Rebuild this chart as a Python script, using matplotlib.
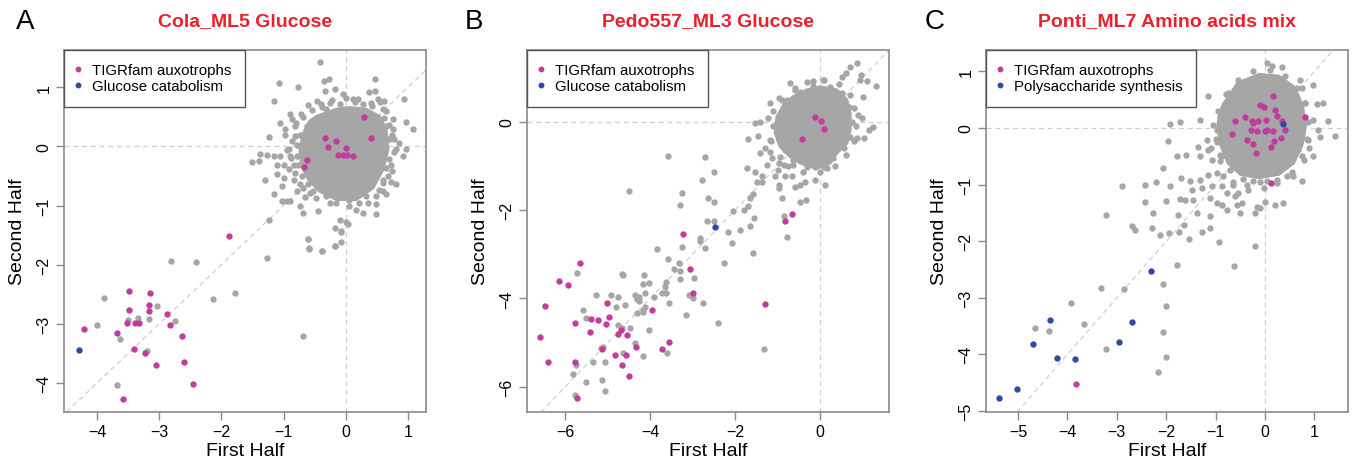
import matplotlib
matplotlib.use("Agg")
import matplotlib.pyplot as plt
from matplotlib.patches import Polygon
from matplotlib.lines import Line2D

plt.rcParams['font.family'] = ['Liberation Sans', 'DejaVu Sans']

# ---------------- Panel A data ----------------
A_core = [(-0.47, 0.51), (-0.15, 0.63), (0.06, 0.66), (0.33, 0.63), (0.54, 0.51), (0.65, 0.29),
          (0.68, -0.05), (0.60, -0.39), (0.44, -0.70), (0.17, -0.90), (-0.15, -0.90), (-0.42, -0.76),
          (-0.60, -0.56), (-0.71, -0.33), (-0.74, -0.05), (-0.68, 0.23), (-0.58, 0.43)]
A_gray = [(-0.41, 1.42), (-1.07, 1.08), (-0.76, 1.01), (-0.35, 1.11), (-0.27, 1.14), (0.47, 1.14),
          (-1.15, 0.76), (-0.33, 0.94), (-0.17, 0.97), (-0.05, 0.89), (0.38, 0.92), (0.47, 0.94),
          (0.41, 0.74), (0.52, 0.80), (0.62, 0.77), (0.94, 0.80), (-0.47, 0.77), (-0.39, 0.67),
          (-0.26, 0.74), (0.01, 0.82), (0.12, 0.80), (0.20, 0.80), (-0.90, 0.55), (-0.87, 0.46),
          (-0.68, 0.49), (-1.06, 0.39), (-0.98, 0.29), (-0.98, 0.20), (-0.82, 0.34), (-0.82, 0.18),
          (0.65, 0.60), (0.76, 0.46), (0.97, 0.41), (1.08, 0.30), (0.76, 0.29), (0.78, 0.12),
          (-1.24, 0.16), (0.81, -0.05), (0.97, -0.05), (0.92, -0.16), (-1.38, -0.12), (-1.27, -0.15),
          (-1.16, -0.17), (-1.06, -0.16), (-0.95, -0.06), (-0.90, -0.16), (-1.51, -0.27), (-1.40, -0.25),
          (-1.11, -0.31), (-1.00, -0.31), (-0.92, -0.39), (-0.84, -0.31), (-1.11, -0.47), (-1.00, -0.53),
          (-1.30, -0.56), (-0.84, -0.56), (-1.03, -0.67), (-0.74, -0.64), (-0.79, -0.76), (0.65, -0.36),
          (0.73, -0.31), (0.60, -0.56), (0.81, -0.64), (0.65, -0.81), (-1.16, -0.81), (-1.03, -0.93),
          (-0.95, -0.93), (-0.90, -0.92), (-0.58, -0.79), (-0.74, -1.01), (-0.68, -1.12), (-0.44, -1.09),
          (-0.15, -0.95), (0.06, -0.90), (0.22, -0.95), (0.49, -0.84), (0.49, -0.98), (0.17, -1.07),
          (0.28, -1.12), (0.49, -1.15), (-0.10, -1.24), (0.01, -1.27), (0.04, -1.32), (-1.24, -1.24),
          (-0.18, -1.38), (-0.07, -1.44), (-0.60, -1.57), (-0.59, -1.73), (-0.39, -1.76), (-0.18, -1.68),
          (-0.07, -1.61), (-1.27, -1.89),
          (0.70, 0.37), (-0.74, 0.20), (-0.79, 0.03), (-0.79, -0.16), (-0.76, -0.31), (-0.71, -0.50),
          (-0.60, -0.64), (-0.52, -0.76), (-0.31, -0.84), (0.06, -0.87), (0.33, -0.84), (0.54, -0.73),
          (0.60, -0.62), (0.68, -0.50), (0.70, -0.22), (0.70, 0.12), (0.65, 0.34), (0.60, 0.63),
          (0.28, 0.71), (-0.10, 0.71), (-0.31, 0.63), (-0.63, 0.34),
          (-0.80, 0.40), (-0.72, 0.55), (-0.55, 0.62), (-0.40, 0.72), (-0.22, 0.78), (0.15, 0.75),
          (0.42, 0.68), (0.62, 0.48), (0.75, 0.20), (0.78, -0.10), (0.74, -0.42), (0.60, -0.75),
          (0.35, -0.96), (0.05, -1.00), (-0.25, -0.96), (-0.48, -0.87), (-0.68, -0.70), (-0.82, -0.45),
          (-0.88, -0.20), (-0.86, 0.10), (-0.66, -0.86), (0.72, -0.60), (0.85, 0.05), (-0.92, -0.05),
          (0.55, 0.75), (-0.60, 0.70),
          (-0.60, -1.56), (-0.59, -1.72), (-0.39, -1.76), (-0.18, -1.68), (-0.07, -1.43),
          (-2.81, -1.94), (-2.40, -1.96), (-3.88, -2.57), (-2.14, -2.58), (-1.78, -2.48), (-3.03, -2.70),
          (-3.16, -2.92), (-3.34, -2.90), (-3.50, -2.94), (-2.75, -2.95), (-4.00, -3.02), (-3.63, -3.25),
          (-3.19, -3.46), (-0.68, -3.21), (-3.68, -4.04)]
A_tigr = [(-1.87, -1.52), (-3.48, -2.44), (-3.14, -2.48), (-3.16, -2.68), (-3.48, -2.76), (-3.16, -2.79),
          (-2.88, -2.84), (-3.51, -2.99), (-3.39, -2.99), (-3.33, -2.99), (-2.83, -3.02), (-4.21, -3.09),
          (-3.68, -3.15), (-2.64, -3.20), (-3.40, -3.42), (-3.23, -3.49), (-3.05, -3.70), (-2.60, -3.65),
          (-2.46, -4.02), (-3.58, -4.27),
          (0.29, 0.49), (0.41, 0.15), (-0.34, 0.15), (-0.16, 0.10), (-0.29, -0.01), (0.01, -0.03),
          (-0.13, -0.15), (-0.05, -0.15), (0.02, -0.14), (0.12, -0.16), (-0.62, -0.23), (-0.67, -0.34)]
A_blue = [(-4.29, -3.44)]

# ---------------- Panel B data ----------------
B_core = [(-0.63, 0.57), (-0.31, 0.72), (0.00, 0.79), (0.39, 0.72), (0.63, 0.49), (0.71, 0.19),
          (0.71, -0.19), (0.63, -0.49), (0.39, -0.72), (0.235, -0.94), (-0.08, -1.06), (-0.47, -0.94),
          (-0.71, -0.79), (-0.94, -0.57), (-1.06, -0.26), (-1.02, 0.11), (-0.86, 0.38)]
B_gray = [(0.86, 1.32), (0.71, 1.24), (0.51, 1.02), (0.94, 0.94), (1.10, 0.91), (1.32, 0.81),
          (-0.16, 0.91), (0.055, 0.94), (-0.72, 0.88), (-0.59, 0.72), (-1.18, 0.43), (-0.98, 0.53),
          (0.90, 0.15), (0.98, 0.09), (1.14, -0.19), (1.24, -0.13), (0.86, -0.38), (1.02, -0.38),
          (-1.53, -0.04), (-1.41, 0.00), (-1.22, 0.08), (-1.69, -0.40), (-1.47, -0.32), (-1.18, -0.41),
          (-1.41, -0.70), (-1.18, -0.68), (-1.14, -0.83), (-1.26, -0.98), (-0.98, -0.94), (-0.86, -0.98),
          (-1.73, -1.06), (-1.53, -1.13), (-1.37, -1.23), (-1.06, -1.23), (-0.82, -1.22), (-0.67, -1.23),
          (-0.63, -0.98), (-0.31, -0.94), (-0.12, -1.02), (0.16, -1.06), (-1.49, -1.36), (-1.37, -1.36),
          (-0.98, -1.43), (-0.98, -1.51), (-0.59, -1.47), (-0.47, -1.43), (-0.35, -1.36), (-0.12, -1.32),
          (0.12, -1.43), (-1.58, -1.64), (-1.65, -1.73), (-0.90, -1.73), (-0.47, -1.81), (-0.34, -1.77),
          (-1.71, -1.91), (-1.80, -2.00), (-2.06, -2.02), (-1.55, -2.19), (-1.88, -2.45), (-1.66, -2.37),
          (-2.16, -2.49), (-2.08, -2.75), (-1.58, -2.98), (-2.27, -3.20), (-0.78, -2.60), (-0.86, -2.13),
          (-3.59, -0.78), (-2.71, -0.81), (-2.49, -1.15), (-2.78, -1.33), (-3.26, -1.61), (-2.63, -1.73),
          (-2.51, -1.83), (-3.29, -1.89), (-2.67, -2.26), (-2.51, -2.26), (-2.84, -2.64), (-2.82, -2.69),
          (-3.26, -2.84), (-2.72, -2.87), (-3.59, -3.11), (-3.33, -3.19), (-3.45, -3.33), (-3.29, -3.39),
          (-2.98, -3.54), (-3.29, -3.57), (-4.50, -1.57), (-3.84, -2.89),
          (-0.78, 0.49), (-1.02, -0.11), (-0.98, -0.41), (-0.82, -0.64), (-0.63, -0.87), (-0.31, -1.02),
          (0.08, -1.02), (0.31, -0.83), (0.55, -0.60), (0.71, -0.34), (0.75, 0.00), (0.67, 0.34),
          (0.51, 0.64), (0.235, 0.79), (-0.16, 0.81), (-0.47, 0.68),
          (-1.10, -0.10), (-1.15, -0.45), (-0.95, -0.80), (-0.75, -1.00), (-0.40, -1.15), (0.00, -1.15),
          (0.35, -1.00), (0.60, -0.75), (0.80, -0.45), (0.85, -0.10), (0.80, 0.30), (0.70, 0.60),
          (0.45, 0.85), (0.10, 0.95), (-0.30, 0.90), (-0.60, 0.75), (-0.90, 0.50), (-1.10, 0.25),
          (1.00, 0.55), (0.95, 1.05), (0.60, 1.10), (-1.30, -0.60), (-1.00, -1.10),
          (-5.72, -3.43), (-4.67, -3.45), (-4.63, -3.48), (-4.14, -3.48), (-4.18, -3.68), (-4.02, -3.66),
          (-3.63, -3.62), (-3.65, -3.74), (-3.73, -3.87), (-3.63, -3.88), (-4.35, -3.92), (-4.27, -3.96),
          (-4.31, -4.01), (-3.91, -3.97), (-4.12, -3.87), (-4.75, -3.96), (-4.93, -3.93), (-5.28, -3.92),
          (-4.80, -4.19), (-4.60, -4.15), (-4.26, -4.06), (-4.13, -4.19), (-4.17, -4.26), (-4.16, -4.30),
          (-4.30, -4.34), (-3.55, -4.11), (-3.08, -3.93), (-2.99, -4.00), (-2.75, -4.10), (-3.15, -4.38),
          (-2.40, -4.55), (-5.58, -4.27), (-5.51, -4.45), (-4.77, -4.60), (-4.67, -4.66), (-4.47, -4.66),
          (-4.02, -4.71), (-4.35, -5.01), (-5.17, -5.13), (-5.10, -5.11), (-3.61, -5.23), (-4.65, -5.23),
          (-4.17, -5.31), (-5.35, -5.45), (-5.74, -5.50), (-5.07, -5.43), (-5.81, -5.72), (-5.52, -5.90),
          (-5.13, -5.84), (-5.06, -6.10), (-5.76, -6.19), (-1.33, -5.14)]
B_tigr = [(-0.13, 0.10), (0.03, 0.02), (0.09, -0.17), (-0.42, -0.39), (-0.82, -2.26), (-0.67, -2.09),
          (-3.23, -2.54), (-3.06, -3.34),
          (-5.65, -3.21), (-6.14, -3.60), (-5.94, -3.69), (-6.47, -4.17), (-2.99, -3.87), (-5.02, -4.10),
          (-3.95, -4.26), (-1.29, -4.12), (-4.97, -4.42), (-5.40, -4.47), (-5.24, -4.49), (-5.05, -4.57),
          (-5.78, -4.55), (-5.41, -4.75), (-4.68, -4.71), (-4.76, -4.81), (-4.55, -4.83), (-6.60, -4.88),
          (-3.55, -4.98), (-5.13, -5.14), (-4.33, -5.11), (-3.73, -5.15), (-6.41, -5.45), (-5.76, -5.43),
          (-4.82, -5.29), (-4.57, -5.29), (-4.66, -5.50), (-4.49, -5.75), (-5.72, -6.26)]
B_blue = [(-2.47, -2.38)]

# ---------------- Panel C data ----------------
C_core = [(-0.85, 0.42), (-0.55, 0.80), (-0.12, 0.95), (0.28, 0.92), (0.60, 0.72), (0.76, 0.40),
          (0.82, 0.03), (0.75, -0.30), (0.58, -0.62), (0.28, -0.82), (-0.12, -0.88), (-0.50, -0.82),
          (-0.75, -0.62), (-0.90, -0.30), (-0.96, 0.03), (-0.93, 0.22)]
C_gray = [(0.03, 1.15), (0.135, 1.10), (0.35, 1.08), (-0.17, 0.91), (-0.34, 0.82), (-0.57, 0.62),
          (-0.74, 0.62), (0.71, 0.85), (0.98, 0.76), (0.74, 0.71), (-1.15, 0.56), (-0.78, 0.44),
          (0.81, 0.44), (1.05, 0.43), (1.18, 0.44), (-1.32, 0.15), (-1.92, 0.08), (-1.73, 0.10),
          (0.98, 0.15), (1.28, 0.12), (1.08, -0.03), (1.42, -0.14), (1.11, -0.16), (0.88, -0.21),
          (0.74, -0.18), (-0.98, -0.03), (-0.98, -0.24), (-1.96, -0.22), (-1.36, -0.33), (-1.17, -0.21),
          (-1.79, -0.49), (-1.60, -0.47), (-1.32, -0.50), (-1.15, -0.38), (-1.08, -0.56), (-0.91, -0.59),
          (-0.91, -0.47), (0.78, -0.56), (0.98, -0.50), (0.74, -0.94), (0.57, -0.85), (-2.06, -0.71),
          (-2.43, -1.00), (-2.21, -0.96), (-1.92, -1.02), (-1.70, -0.88), (-1.52, -0.94), (-1.32, -0.91),
          (-1.15, -0.83), (-0.98, -0.80), (-1.48, -1.09), (-1.28, -1.06), (-1.08, -1.02), (-0.88, -1.03),
          (-0.64, -1.00), (-0.78, -1.15), (-0.54, -1.15), (-0.37, -1.00), (-0.24, -0.94), (-0.03, -1.06),
          (0.03, -0.94), (0.24, -0.97), (0.44, -0.85), (-2.43, -1.30), (-1.72, -1.25), (-1.62, -1.27),
          (-1.45, -1.27), (-1.11, -1.24), (-0.98, -1.33), (-0.88, -1.36), (-0.61, -1.21), (-0.57, -1.36),
          (-0.47, -1.33), (-0.17, -1.39), (0.00, -1.30), (0.20, -1.36), (0.37, -1.33), (-2.26, -1.50),
          (-1.77, -1.53), (-1.38, -1.50), (-1.11, -1.56), (-0.78, -1.44), (-0.51, -1.50), (-0.20, -1.50),
          (-0.10, -1.41), (-2.69, -1.74), (-2.63, -1.81), (-2.29, -1.77), (-2.13, -1.89), (-1.94, -1.86),
          (-1.75, -1.84), (-1.65, -1.71), (-1.28, -1.83), (-1.11, -1.77), (-1.53, -1.97), (-0.94, -2.02),
          (-0.20, -2.09), (-2.90, -1.03), (-2.00, -1.29), (-3.23, -1.53),
          (-0.67, 0.44), (-0.51, 0.68), (-0.27, 0.85), (0.10, 0.91), (0.44, 0.76), (0.61, 0.53),
          (0.74, 0.21), (0.74, -0.09), (0.675, -0.38), (0.44, -0.65), (0.10, -0.80), (-0.27, -0.78),
          (-0.54, -0.65), (-0.74, -0.41), (-0.88, -0.15), (-0.88, 0.18),
          (-0.95, 0.30), (-0.80, 0.60), (-0.55, 0.85), (-0.25, 1.00), (0.10, 1.02), (0.40, 0.92),
          (0.65, 0.70), (0.80, 0.45), (0.88, 0.10), (0.85, -0.20), (0.75, -0.50), (0.55, -0.78),
          (0.25, -0.92), (-0.10, -0.95), (-0.45, -0.90), (-0.70, -0.75), (-0.88, -0.50), (-1.00, -0.20),
          (-1.05, 0.05), (-0.65, -0.95), (-0.35, -1.10), (0.90, -0.35), (-1.10, -0.35), (-0.85, -0.85),
          (-1.78, -2.42), (-0.62, -2.44), (-2.06, -2.75), (-3.33, -2.82), (-2.85, -2.84),
          (-3.93, -3.09), (-2.00, -3.14), (-3.66, -3.46), (-4.65, -3.54), (-4.37, -3.58), (-2.06, -3.61),
          (-3.23, -3.90), (-2.01, -4.05), (-2.16, -4.32)]
C_tigr = [(0.17, 0.56), (-0.10, 0.41), (-0.03, 0.38), (0.20, 0.32), (-0.40, 0.19), (-0.61, 0.12),
          (-0.27, 0.12), (-0.24, 0.09), (-0.14, 0.13), (0.02, 0.15), (0.24, 0.21), (0.34, 0.12),
          (-0.28, -0.03), (-0.17, -0.05), (-0.01, -0.05), (0.03, -0.03), (0.16, -0.06), (0.41, -0.03),
          (-0.67, -0.10), (-0.37, -0.21), (-0.24, -0.28), (0.19, -0.22), (0.32, -0.18), (0.12, -0.34),
          (-0.18, -0.44), (0.80, 0.20), (0.12, -0.97), (-3.83, -4.53)]
C_blue = [(0.36, 0.07), (-2.30, -2.53), (-4.35, -3.39), (-2.70, -3.42), (-4.70, -3.82), (-2.96, -3.79),
          (-4.21, -4.06), (-3.85, -4.09), (-5.02, -4.61), (-5.39, -4.78)]

panels = [
    dict(letter="A", title="Cola_ML5 Glucose", core=A_core, gray=A_gray, tigr=A_tigr, blue=A_blue,
         blue_label="Glucose catabolism", xlim=(-4.53, 1.29), ylim=(-4.49, 1.63),
         xticks=[-4, -3, -2, -1, 0, 1], yticks=[-4, -3, -2, -1, 0, 1], left=64, lx=25),
    dict(letter="B", title="Pedo557_ML3 Glucose", core=B_core, gray=B_gray, tigr=B_tigr, blue=B_blue,
         blue_label="Glucose catabolism", xlim=(-6.9, 1.62), ylim=(-6.57, 1.62),
         xticks=[-6, -4, -2, 0], yticks=[-6, -4, -2, 0], left=527, lx=474),
    dict(letter="C", title="Ponti_ML7 Amino acids mix", core=C_core, gray=C_gray, tigr=C_tigr, blue=C_blue,
         blue_label="Polysaccharide synthesis", xlim=(-5.65, 1.68), ylim=(-5.02, 1.38),
         xticks=[-5, -4, -3, -2, -1, 0, 1], yticks=[-5, -4, -3, -2, -1, 0, 1], left=986, lx=935),
]

W, H = 1354, 464
fig = plt.figure(figsize=(W / 100, H / 100), dpi=100)

GRAY = '#a6a6a6'
MAG = '#c23b9f'
BLUE = '#2b4ba5'
FRAME = '#8a8a8a'
LINEC = '#cfcfcf'
S = 21

for p in panels:
    ax = fig.add_axes([p['left'] / W, (H - 413) / H, 362 / W, 362 / H])
    ax.set_xlim(*p['xlim'])
    ax.set_ylim(*p['ylim'])
    ax.axhline(0, color=LINEC, lw=0.9, ls=(0, (4, 3)), zorder=1)
    ax.axvline(0, color=LINEC, lw=0.9, ls=(0, (4, 3)), zorder=1)
    ax.axline((0, 0), slope=1, color=LINEC, lw=0.9, ls=(0, (4, 3)), zorder=1)
    ax.add_patch(Polygon(p['core'], closed=True, facecolor=GRAY, edgecolor=GRAY, lw=2, zorder=2))
    gx = [q[0] for q in p['gray']]
    gy = [q[1] for q in p['gray']]
    ax.scatter(gx, gy, s=S, color=GRAY, linewidths=0, zorder=2)
    tx = [q[0] for q in p['tigr']]
    ty = [q[1] for q in p['tigr']]
    ax.scatter(tx, ty, s=S, color=MAG, linewidths=0, zorder=3)
    bx = [q[0] for q in p['blue']]
    by = [q[1] for q in p['blue']]
    ax.scatter(bx, by, s=S, color=BLUE, linewidths=0, zorder=3)

    ax.set_xticks(p['xticks'])
    ax.set_yticks(p['yticks'])
    for s in ax.spines.values():
        s.set_color(FRAME)
        s.set_linewidth(1.2)
    ax.tick_params(direction='out', length=6, width=1.0, color=FRAME, labelsize=11.5, pad=3)
    for lab in ax.get_yticklabels():
        lab.set_rotation(90)
        lab.set_va('center')
    ax.set_xlabel("First Half", fontsize=14)
    ax.set_ylabel("Second Half", fontsize=14)
    ax.xaxis.set_label_coords(0.5, -0.082)
    ax.yaxis.set_label_coords(-0.104, 0.5)

    handles = [Line2D([], [], marker='o', ls='none', color=MAG, markersize=3.2),
               Line2D([], [], marker='o', ls='none', color=BLUE, markersize=3.2)]
    leg = ax.legend(handles, ["TIGRfam auxotrophs", p['blue_label']], loc='upper left',
                    borderaxespad=0, fancybox=False, fontsize=10.8, handlelength=0.1,
                    handletextpad=0.85, borderpad=0.9, labelspacing=0.13, framealpha=1)
    leg.get_frame().set_edgecolor('#555555')
    leg.get_frame().set_linewidth(1.0)

    cx = (p['left'] + 181) / W
    fig.text(cx, 1 - 22 / H, p['title'], color='#e8212b', fontsize=14, fontweight='bold',
             ha='center', va='center')
    fig.text(p['lx'] / W, 1 - 22 / H, p['letter'], fontsize=20, ha='center', va='center')

fig.savefig("out.png", dpi=100)
